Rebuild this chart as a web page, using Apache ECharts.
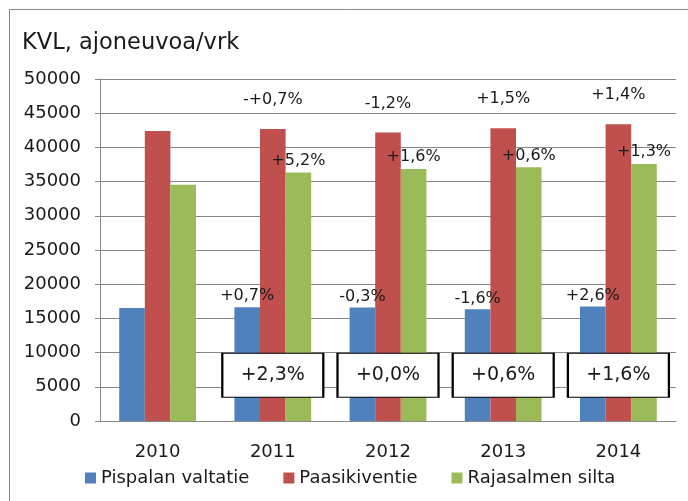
<!DOCTYPE html>
<html>
<head>
<meta charset="utf-8">
<script src="https://cdn.jsdelivr.net/npm/echarts@6/dist/echarts.min.js"></script>
<style>
  html, body { margin: 0; padding: 0; background: #fff; }
  #chart { width: 688px; height: 501px; }
</style>
</head>
<body>
<div id="chart"></div>
<script>
// Data
const years = ['2010', '2011', '2012', '2013', '2014'];
const pispala = [16520, 16630, 16580, 16320, 16750];
const paasikivi = [42390, 42680, 42170, 42800, 43400];
const rajasalmi = [34530, 36330, 36850, 37080, 37560];

// change labels above the bars
const pispalaChange = ['', '+0,7%', '-0,3%', '-1,6%', '+2,6%'];
const paasikiviChange = ['', '-+0,7%', '-1,2%', '+1,5%', '+1,4%'];
const rajasalmiChange = ['', '+5,2%', '+1,6%', '+0,6%', '+1,3%'];

// total change per year (boxed)
const totalYears = ['2011', '2012', '2013', '2014'];
const totalChange = ['+2,3%', '+0,0%', '+0,6%', '+1,6%'];
const boxLevel = 6700;

const FONT = 'DejaVu Sans';
const TXT = '#1a1a1a';
const GRID = '#878787';

const chart = echarts.init(document.getElementById('chart'));

function changeLabel(texts, distance) {
    return {
        show: true,
        position: 'top',
        distance: distance,
        fontFamily: FONT,
        fontSize: 16,
        color: TXT,
        formatter: p => texts[p.dataIndex]
    };
}

const option = {
    animation: false,
    backgroundColor: '#fff',
    color: ['#4F81BD', '#C0504D', '#9BBB59'],
    title: {
        text: 'KVL, ajoneuvoa/vrk',
        left: 22,
        top: 32,
        padding: 0,
        textStyle: { fontFamily: FONT, fontSize: 22.5, fontWeight: 'normal', color: TXT }
    },
    graphic: [{
        type: 'rect',
        shape: { x: 9.5, y: 9.5, width: 700, height: 520 },
        style: { fill: 'none', stroke: '#8a8a8a', lineWidth: 1 },
        silent: true
    }],
    legend: {
        data: ['Pispalan valtatie', 'Paasikiventie', 'Rajasalmen silta'],
        left: 85,
        top: 469,
        padding: 0,
        icon: 'rect',
        itemWidth: 11,
        itemHeight: 11,
        itemGap: 34,
        textStyle: { fontFamily: FONT, fontSize: 18, color: TXT }
    },
    grid: { left: 100, right: 12, top: 79, bottom: 80 },
    xAxis: {
        type: 'category',
        data: years,
        axisLine: { lineStyle: { color: GRID } },
        axisTick: { show: false },
        axisLabel: { fontFamily: FONT, fontSize: 18, color: TXT, margin: 22 }
    },
    yAxis: {
        type: 'value',
        min: 0,
        max: 50000,
        interval: 5000,
        axisLine: { show: true, lineStyle: { color: GRID } },
        axisTick: { show: true, length: 5, lineStyle: { color: GRID } },
        splitLine: { lineStyle: { color: GRID } },
        axisLabel: {
            fontFamily: FONT, fontSize: 18, color: TXT, margin: 19,
            formatter: v => String(v)
        }
    },
    series: [
        {
            name: 'Pispalan valtatie',
            type: 'bar',
            data: pispala,
            barWidth: 25.6,
            barGap: '0%',
            label: changeLabel(pispalaChange, 3)
        },
        {
            name: 'Paasikiventie',
            type: 'bar',
            data: paasikivi,
            barWidth: 25.6,
            barGap: '0%',
            label: changeLabel(paasikiviChange, 21)
        },
        {
            name: 'Rajasalmen silta',
            type: 'bar',
            data: rajasalmi,
            barWidth: 25.6,
            barGap: '0%',
            label: changeLabel(rajasalmiChange, 4)
        },
        {
            name: 'total',
            type: 'scatter',
            z: 5,
            symbol: 'rect',
            symbolSize: [101, 44],
            itemStyle: { color: '#fff', borderColor: '#000', borderWidth: 1.5, opacity: 1 },
            label: {
                show: true,
                position: 'inside',
                fontFamily: FONT,
                fontSize: 19,
                color: TXT,
                formatter: p => totalChange[p.dataIndex]
            },
            data: totalYears.map(y => [y, boxLevel])
        }
    ]
};

chart.setOption(option);
</script>
</body>
</html>
